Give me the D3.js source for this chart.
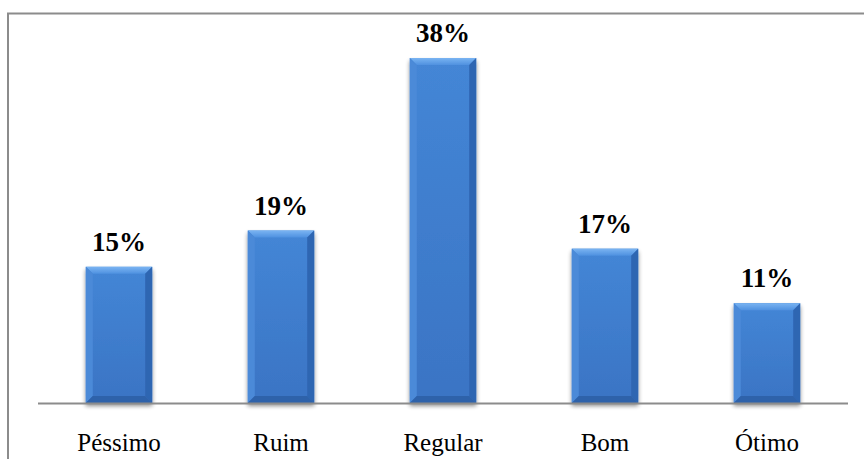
<!DOCTYPE html>
<html>
<head>
<meta charset="utf-8">
<script src="https://cdn.jsdelivr.net/npm/d3@7"></script>
<style>
  html, body { margin: 0; padding: 0; background: #fff; }
  svg { display: block; }
  svg text { font-family: "Liberation Serif", Tinos, "Times New Roman", Times, serif; }
</style>
</head>
<body>
<svg id="chart" width="864" height="459"></svg>
<script>
// Avaliação — percentual de respostas por categoria
const categories = ["Péssimo", "Ruim", "Regular", "Bom", "Ótimo"];
const values = [15, 19, 38, 17, 11];
const valueLabels = ["15%", "19%", "38%", "17%", "11%"];

const svg = d3.select("#chart");
const W = 864, H = 459;
const plot = { left: 38, right: 848, top: 20, bottom: 403 };

const x = d3.scaleBand()
  .domain(categories)
  .range([plot.left, plot.right])
  .paddingInner(0.59)
  .paddingOuter(0.295);

const y = d3.scaleLinear()
  .domain([0, 38])
  .range([plot.bottom, 58]);

const defs = svg.append("defs");
const shadow = defs.append("filter").attr("id", "shadow")
  .attr("x", "-20%").attr("y", "-10%").attr("width", "140%").attr("height", "130%");
shadow.append("feGaussianBlur").attr("in", "SourceAlpha").attr("stdDeviation", 2.2).attr("result", "b");
shadow.append("feOffset").attr("in", "b").attr("dx", 0).attr("dy", 3).attr("result", "o");
shadow.append("feComponentTransfer").attr("in", "o").attr("result", "s")
  .append("feFuncA").attr("type", "linear").attr("slope", 0.45);
const merge = shadow.append("feMerge");
merge.append("feMergeNode").attr("in", "s");
merge.append("feMergeNode").attr("in", "SourceGraphic");

const faceGrad = defs.append("linearGradient").attr("id", "face")
  .attr("x1", 0).attr("y1", 0).attr("x2", 0).attr("y2", 1);
faceGrad.append("stop").attr("offset", "0%").attr("stop-color", "#4486d6");
faceGrad.append("stop").attr("offset", "100%").attr("stop-color", "#3a74c4");

const topGrad = defs.append("linearGradient").attr("id", "topBevel")
  .attr("x1", 0).attr("y1", 0).attr("x2", 0).attr("y2", 1);
topGrad.append("stop").attr("offset", "0%").attr("stop-color", "#7ab4f2");
topGrad.append("stop").attr("offset", "100%").attr("stop-color", "#4f91e0");

// Outer frame (runs off the right and bottom edges)
svg.append("rect")
  .attr("x", 8).attr("y", 13.5)
  .attr("width", W + 20).attr("height", H + 20)
  .attr("fill", "none").attr("stroke", "#8c8c8c").attr("stroke-width", 2);

// Bars with bevelled edges
const bev = 7;
const rows = categories.map((c, i) => ({ c, v: values[i], label: valueLabels[i] }));
const bars = svg.append("g").selectAll("g.bar")
  .data(rows)
  .join("g").attr("class", "bar");

bars.each(function (d) {
  const g = d3.select(this).attr("filter", "url(#shadow)");
  const x0 = x(d.c), x1 = x0 + x.bandwidth();
  const y0 = y(d.v), y1 = y(0);
  g.append("rect").attr("x", x0).attr("y", y0)
    .attr("width", x1 - x0).attr("height", y1 - y0).attr("fill", "url(#face)");
  const poly = (pts, fill) => g.append("polygon")
    .attr("points", pts.map(p => p.join(",")).join(" ")).attr("fill", fill);
  poly([[x0, y0], [x1, y0], [x1 - bev, y0 + bev], [x0 + bev, y0 + bev]], "url(#topBevel)");
  poly([[x0, y0], [x0 + bev, y0 + bev], [x0 + bev, y1 - bev], [x0, y1]], "#4b8ad8");
  poly([[x1, y0], [x1, y1], [x1 - bev, y1 - bev], [x1 - bev, y0 + bev]], "#2f66b2");
  poly([[x0, y1], [x0 + bev, y1 - bev], [x1 - bev, y1 - bev], [x1, y1]], "#2d62aa");
});

// Category axis line
svg.append("line")
  .attr("x1", plot.left).attr("x2", plot.right)
  .attr("y1", plot.bottom + 0.5).attr("y2", plot.bottom + 0.5)
  .attr("stroke", "#8c8c8c").attr("stroke-width", 2);

// Value labels
svg.append("g").selectAll("text")
  .data(rows)
  .join("text")
  .attr("x", d => x(d.c) + x.bandwidth() / 2)
  .attr("y", d => y(d.v) - 16)
  .attr("text-anchor", "middle")
  .attr("font-weight", "bold")
  .attr("font-size", 27)
  .attr("fill", "#000")
  .text(d => d.label);

// Category labels
svg.append("g").selectAll("text")
  .data(categories)
  .join("text")
  .attr("x", d => x(d) + x.bandwidth() / 2)
  .attr("y", 451)
  .attr("text-anchor", "middle")
  .attr("font-size", 25)
  .attr("fill", "#000")
  .text(d => d);
</script>
</body>
</html>
